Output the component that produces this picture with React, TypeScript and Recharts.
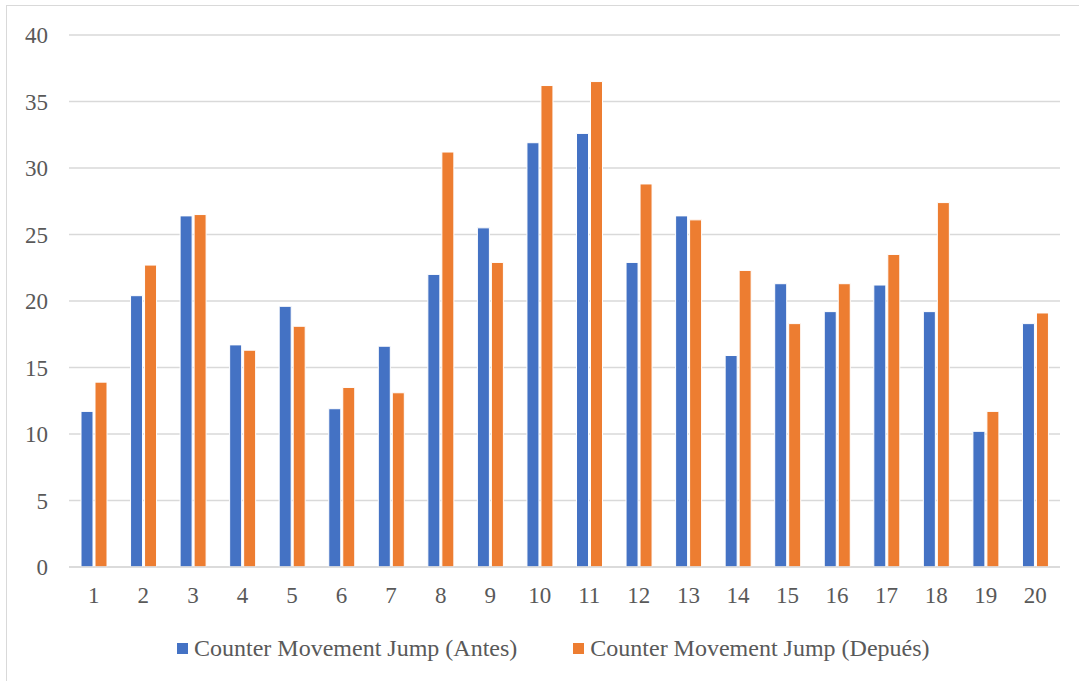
import { BarChart, Bar, XAxis, YAxis, CartesianGrid, Legend } from 'recharts'

// CMJ height per athlete, before and after the programme
const athletes = ['1', '2', '3', '4', '5', '6', '7', '8', '9', '10',
  '11', '12', '13', '14', '15', '16', '17', '18', '19', '20']
const cmjAntes = [11.7, 20.4, 26.4, 16.7, 19.6, 11.9, 16.6, 22.0, 25.5, 31.9,
  32.6, 22.9, 26.4, 15.9, 21.3, 19.2, 21.2, 19.2, 10.2, 18.3]
const cmjDespues = [13.9, 22.7, 26.5, 16.3, 18.1, 13.5, 13.1, 31.2, 22.9, 36.2,
  36.5, 28.8, 26.1, 22.3, 18.3, 21.3, 23.5, 27.4, 11.7, 19.1]
const yTicks = [0, 5, 10, 15, 20, 25, 30, 35, 40]

const seriesNames = ['Counter Movement Jump (Antes)', 'Counter Movement Jump (Depués)']
const seriesColors = ['#4472C4', '#ED7D31']

const data = athletes.map((a, i) => ({ name: a, antes: cmjAntes[i], despues: cmjDespues[i] }))

const FONT = 'Liberation Serif, DejaVu Serif, serif'
const TEXT = '#595959'
const GRID = '#d9d9d9'

function LegendRow() {
  return (
    <div style={{ display: 'flex', alignItems: 'center', height: 30, fontFamily: FONT, fontSize: 24, color: TEXT }}>
      {seriesNames.map((n, i) => (
        <div key={n} style={{ display: 'flex', alignItems: 'center', marginRight: i === 0 ? 56 : 0 }}>
          <span style={{ width: 11, height: 11, background: seriesColors[i], marginRight: 6, display: 'inline-block' }} />
          <span style={{ lineHeight: '30px', whiteSpace: 'nowrap', fontFamily: FONT }}>{n}</span>
        </div>
      ))}
    </div>
  )
}

export default function App() {
  return (
    <div style={{ position: 'absolute', left: 0, top: 0, width: 1079, height: 681, overflow: 'hidden', background: '#fff', fontFamily: FONT }}>
      <div style={{
        position: 'absolute', left: 6, top: 5, width: 1200, height: 800,
        borderTop: `1.5px solid ${GRID}`, borderLeft: `1.5px solid ${GRID}`,
      }} />
      <BarChart
        width={1079}
        height={681}
        data={data}
        margin={{ top: 35, right: 19, left: 9, bottom: 18 }}
        barGap={2}
        style={{ position: 'absolute', left: 0, top: 0, fontFamily: FONT }}
      >
        <CartesianGrid vertical={false} stroke={GRID} strokeWidth={1.5} />
        <XAxis
          dataKey="name"
          height={66}
          tickLine={false}
          axisLine={{ stroke: GRID, strokeWidth: 1.5 }}
          tickMargin={14}
          tick={{ fontSize: 23, fill: TEXT, fontFamily: FONT }}
          interval={0}
        />
        <YAxis
          width={60}
          domain={[0, 40]}
          ticks={yTicks}
          tickLine={false}
          axisLine={false}
          tickMargin={15}
          tick={{ fontSize: 23, fill: TEXT, fontFamily: FONT }}
        />
        <Legend
          verticalAlign="bottom"
          content={() => <LegendRow />}
          wrapperStyle={{ left: 177, width: 900 }}
        />
        <Bar dataKey="antes" name={seriesNames[0]} fill={seriesColors[0]} barSize={12}
          stroke="#ffffff" strokeWidth={1} isAnimationActive={false} />
        <Bar dataKey="despues" name={seriesNames[1]} fill={seriesColors[1]} barSize={12}
          stroke="#ffffff" strokeWidth={1} isAnimationActive={false} />
      </BarChart>
    </div>
  )
}
